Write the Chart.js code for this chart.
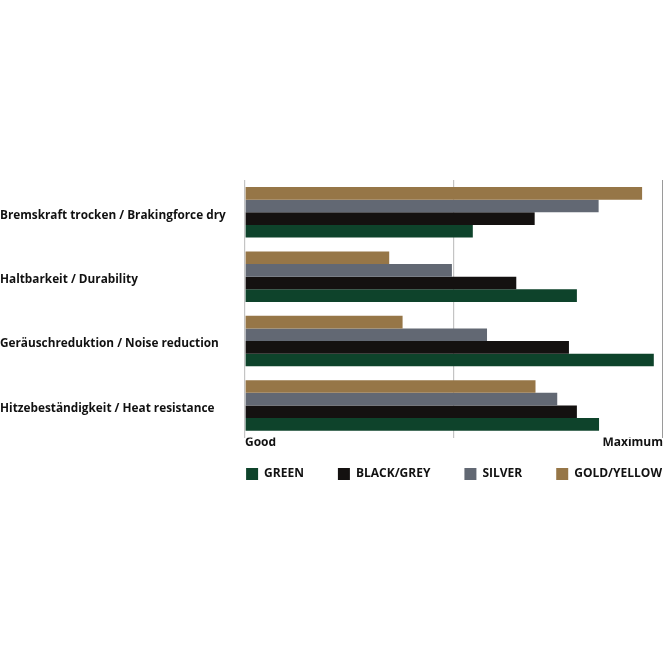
<!DOCTYPE html>
<html>
<head>
<meta charset="utf-8">
<script src="https://cdn.jsdelivr.net/npm/chart.js@4"></script>
<style>
  html, body { margin: 0; padding: 0; background: #fff; overflow: hidden; }
  #wrap { position: absolute; left: 0; top: 170px; width: 663px; height: 334px; }
</style>
</head>
<body>
<div id="wrap"><canvas id="chart"></canvas></div>
<script>
// --- data (scale 0 = Good, 100 = Maximum) ---
const categories = [
  'Bremskraft trocken / Brakingforce dry',
  'Haltbarkeit / Durability',
  'Geräuschreduktion / Noise reduction',
  'Hitzebeständigkeit / Heat resistance'
];
const goldValues   = [95, 34.5, 37.7, 69.5];
const silverValues = [84.6, 49.5, 57.9, 74.7];
const blackValues  = [69.3, 64.9, 77.5, 79.4];
const greenValues  = [54.5, 79.4, 97.8, 84.7];
const xTickLabels = ['Good', '', 'Maximum'];

const FONT = '"Open Sans", Roboto, sans-serif';
const LEGEND_GAP = 34;

// legend sits flush with the plot's right edge and close under the axis labels
const legendNudge = {
  id: 'legendNudge',
  afterLayout(chart) {
    const lg = chart.legend;
    if (!lg) return;
    lg.left += LEGEND_GAP - 2;
    lg.right += LEGEND_GAP - 2;
    lg.top -= 14;
    lg.bottom -= 14;
  }
};

const ctx = document.getElementById('chart').getContext('2d');
new Chart(ctx, {
  type: 'bar',
  data: {
    labels: categories,
    datasets: [
      { label: 'GOLD/YELLOW', data: goldValues, backgroundColor: '#967647' },
      { label: 'SILVER', data: silverValues, backgroundColor: '#626873' },
      { label: 'BLACK/GREY', data: blackValues, backgroundColor: '#141110' },
      { label: 'GREEN', data: greenValues, backgroundColor: '#0e432b' }
    ]
  },
  plugins: [legendNudge],
  options: {
    indexAxis: 'y',
    responsive: true,
    maintainAspectRatio: false,
    animation: false,
    layout: { padding: { top: 10, right: -1, left: 0, bottom: 0 } },
    datasets: { bar: { barPercentage: 1, categoryPercentage: 0.785, borderWidth: 0 } },
    scales: {
      x: {
        min: 0, max: 100,
        border: { display: false },
        grid: {
          drawTicks: false,
          color: c => (c.tick && c.tick.value === 100) ? '#9a9a9a' : '#c4c4c4',
          lineWidth: 1.2
        },
        ticks: {
          stepSize: 50,
          align: 'inner',
          padding: -2,
          color: '#111',
          font: { family: FONT, size: 12, weight: 'bold' },
          callback: (v, i) => xTickLabels[i]
        }
      },
      y: {
        border: { display: false },
        grid: { display: false, drawTicks: false },
        afterFit: s => { s.width = 245; },
        ticks: {
          crossAlign: 'far',
          labelOffset: 3,
          color: '#111',
          font: { family: FONT, size: 11.8, weight: 'bold' }
        }
      }
    },
    plugins: {
      tooltip: { enabled: false },
      legend: {
        position: 'bottom',
        align: 'end',
        reverse: true,
        labels: {
          boxWidth: 12,
          boxHeight: 12,
          padding: LEGEND_GAP,
          color: '#111',
          font: { family: FONT, size: 12, weight: 'bold' }
        }
      }
    }
  }
});
</script>
</body>
</html>
